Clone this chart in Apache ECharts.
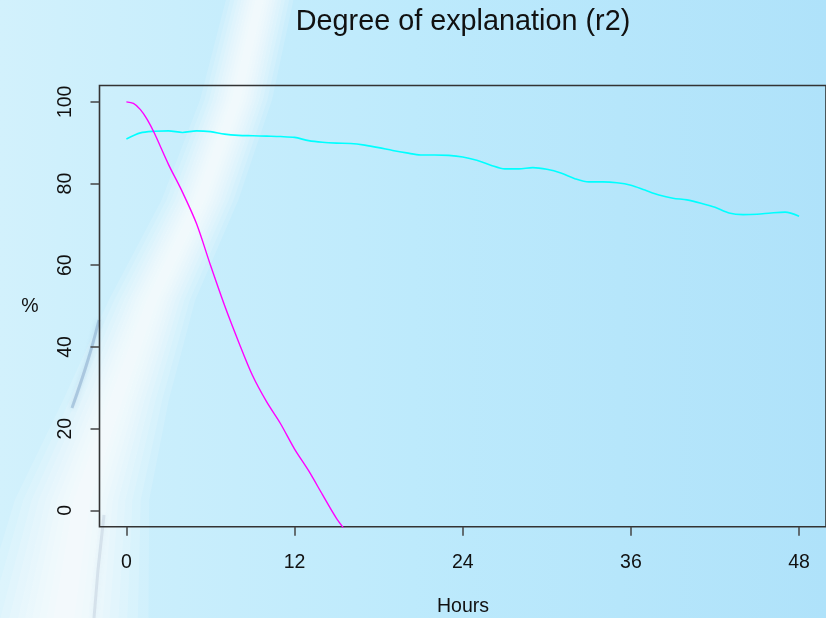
<!DOCTYPE html>
<html>
<head>
<meta charset="utf-8">
<script src="https://cdn.jsdelivr.net/npm/echarts@6/dist/echarts.min.js"></script>
<style>html,body{margin:0;padding:0;}#c{width:826px;height:618px;}</style>
</head>
<body>
<div id="c"></div>
<script>
// ---- data ----
const titleText = "Degree of explanation (r2)";
const xName = "Hours";
const yName = "%";
const xTicks = [0, 12, 24, 36, 48];
const yTicks = [0, 20, 40, 60, 80, 100];
const cyanHours = [0,1,2,3,4,5,6,7,8,9,10,11,12,13,14,15,16,17,18,19,20,21,22,23,24,25,26,27,28,29,30,31,32,33,34,35,36,37,38,39,40,41,42,43,44,45,46,47,48];
const cyanValues = [90.9,92.4,92.8,92.9,92.5,92.9,92.7,92.1,91.8,91.7,91.6,91.5,91.3,90.5,90.1,89.9,89.8,89.4,88.8,88.1,87.5,87.0,87.0,86.9,86.5,85.7,84.5,83.6,83.6,83.9,83.5,82.6,81.2,80.4,80.4,80.2,79.6,78.4,77.2,76.4,76.0,75.2,74.2,72.8,72.4,72.5,72.8,73.0,72.0];
const magentaHours = [0,0.5,1,1.5,2,3,4,5,6,7,8,9,10,11,12,13,14,15,16];
const magentaValues = [100,99.6,98.1,95.6,92.3,84.7,77.9,70.2,60.0,50.2,41.3,33.0,26.6,21.2,15.0,9.7,3.8,-2.0,-6.5];

const pairs = (xs, ys) => xs.map((x, i) => [x, ys[i]]);

const chart = echarts.init(document.getElementById('c'), null, {renderer: 'canvas'});
const font = 'Liberation Sans, Arial, Helvetica, sans-serif';

// soft diagonal light streak (decorative background), built as layered bands
const streakCenter = [[262,-10],[236,100],[200,200],[152,300],[116,400],[82,500],[62,630]];
const streakHalf = [14,15,16,18,22,28,36];
function band(scale) {
  const left = streakCenter.map((p, i) => [p[0] - streakHalf[i] * scale, p[1]]);
  const right = streakCenter.map((p, i) => [p[0] + streakHalf[i] * scale, p[1]]).reverse();
  return left.concat(right);
}
const streak = [2.4, 2.1, 1.8, 1.55, 1.3, 1.1, 0.9, 0.7, 0.5, 0.3].map(s => ({
  type: 'polygon', z: -10, silent: true,
  shape: {points: band(s)},
  style: {fill: 'rgba(255,255,255,0.14)'}
}));

chart.setOption({
  animation: false,
  backgroundColor: new echarts.graphic.LinearGradient(0, 0, 1, 0, [
    {offset: 0, color: '#d2f1fc'},
    {offset: 0.5, color: '#bdeafc'},
    {offset: 1, color: '#afe2fa'}
  ]),
  graphic: streak.concat([
    {
      type: 'polyline', z: -9, silent: true,
      shape: {points: [[99,320],[88,360],[72,408]], smooth: 0.4},
      style: {stroke: 'rgba(80,120,170,0.3)', lineWidth: 3, shadowBlur: 5, shadowColor: 'rgba(80,120,170,0.5)'}
    },
    {
      type: 'polyline', z: -9, silent: true,
      shape: {points: [[104,515],[98,570],[94,618]]},
      style: {stroke: 'rgba(140,160,185,0.22)', lineWidth: 3, shadowBlur: 5, shadowColor: 'rgba(140,160,185,0.4)'}
    },
    {
      type: 'text', x: 463, y: 22, silent: true,
      style: {text: titleText, fontSize: 28.8, fontFamily: font, fill: '#111', textAlign: 'center', textVerticalAlign: 'middle'}
    },
    {
      type: 'text', x: 463, y: 607, silent: true,
      style: {text: xName, fontSize: 19.5, fontFamily: font, fill: '#111', textAlign: 'center', textVerticalAlign: 'middle'}
    },
    {
      type: 'text', x: 30, y: 307, silent: true,
      style: {text: yName, fontSize: 19.5, fontFamily: font, fill: '#111', textAlign: 'center', textVerticalAlign: 'middle'}
    }
  ]),
  grid: {
    left: 99.5, top: 85.5, width: 727.5, height: 441.2,
    show: true, borderColor: '#333', borderWidth: 1.6, backgroundColor: 'transparent'
  },
  xAxis: {
    type: 'value', min: -1.92, max: 49.92,
    splitLine: {show: false},
    axisLine: {show: false, onZero: false},
    axisTick: {show: true, inside: false, length: 9, lineStyle: {color: '#444', width: 1.5}, customValues: xTicks},
    axisLabel: {customValues: xTicks, fontSize: 19.5, fontFamily: font, color: '#111', margin: 26}
  },
  yAxis: {
    type: 'value', min: -4, max: 104,
    splitLine: {show: false},
    axisLine: {show: false, onZero: false},
    axisTick: {show: true, inside: false, length: 9, lineStyle: {color: '#444', width: 1.5}, customValues: yTicks},
    axisLabel: {customValues: yTicks, fontSize: 19.5, fontFamily: font, color: '#111', rotate: 90, margin: 24}
  },
  series: [
    {
      type: 'line', data: pairs(cyanHours, cyanValues), showSymbol: false, smooth: 0.3, clip: true,
      lineStyle: {color: '#00ffff', width: 1.6}
    },
    {
      type: 'line', data: pairs(magentaHours, magentaValues), showSymbol: false, smooth: 0.3, clip: true,
      lineStyle: {color: '#ff00ff', width: 1.4}
    }
  ]
});
</script>
</body>
</html>
